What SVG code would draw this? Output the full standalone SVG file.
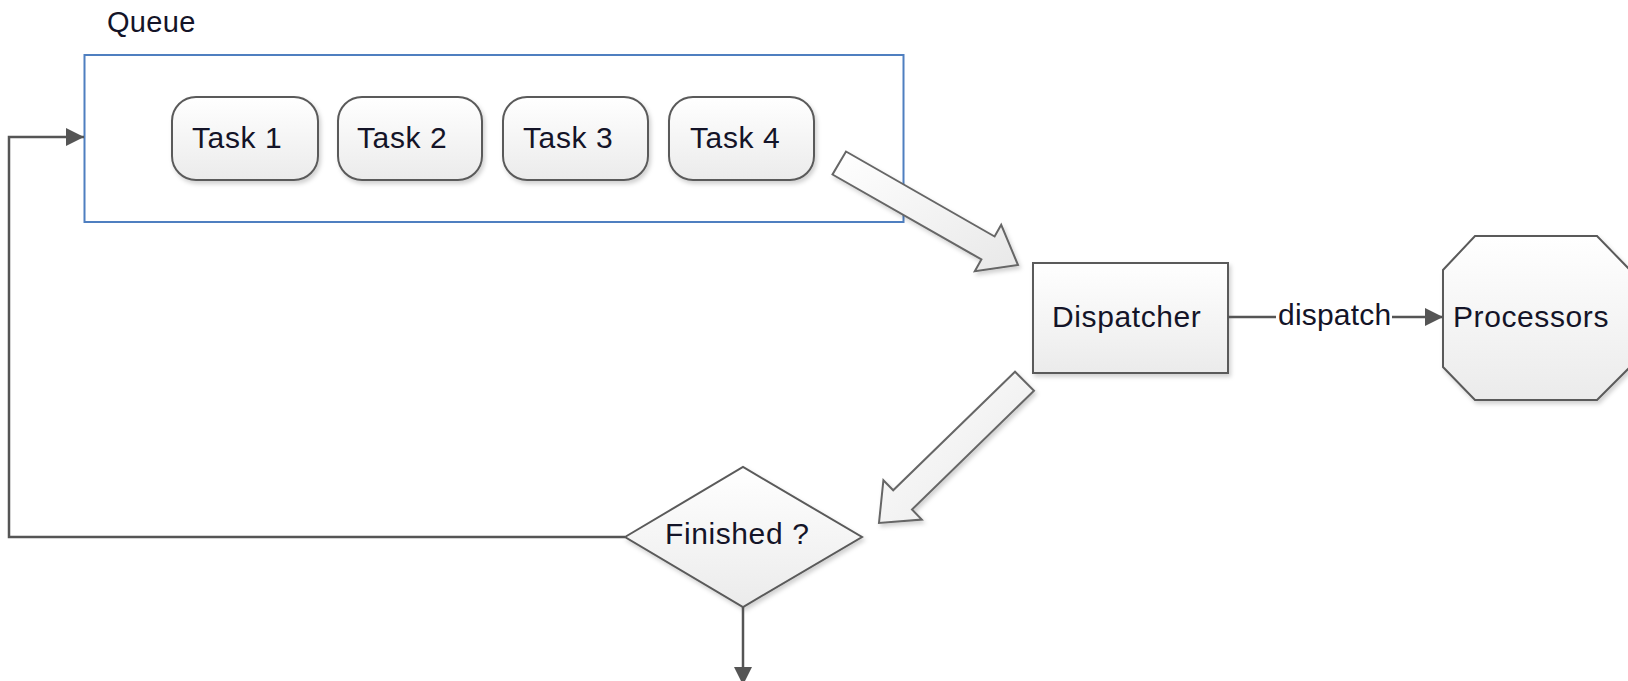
<svg xmlns="http://www.w3.org/2000/svg" width="1628" height="681" viewBox="0 0 1628 681">
<defs>
<linearGradient id="g" x1="0" y1="0" x2="0" y2="1"><stop offset="0" stop-color="#ffffff"/><stop offset="1" stop-color="#ebebeb"/></linearGradient>
<linearGradient id="ga" x1="0" y1="0" x2="1" y2="1"><stop offset="0" stop-color="#ffffff"/><stop offset="1" stop-color="#e8e8e8"/></linearGradient>
<filter id="sh" x="-10%" y="-10%" width="130%" height="130%"><feDropShadow dx="2" dy="3" stdDeviation="2" flood-color="#000" flood-opacity="0.18"/></filter>
<marker id="ah" viewBox="0 0 10 10" refX="10" refY="5" markerWidth="20" markerHeight="18" markerUnits="userSpaceOnUse" orient="auto"><path d="M0,0 L10,5 L0,10 z" fill="#555"/></marker>
<style>
.node{fill:url(#g);stroke:#5a5a5a;stroke-width:2;filter:url(#sh)}
.blk{fill:url(#ga);stroke:#666;stroke-width:2;stroke-linejoin:miter;filter:url(#sh)}
.t{font-family:"Liberation Sans",Arial,sans-serif;font-size:30px;letter-spacing:0.6px;fill:#141428}
.conn{fill:none;stroke:#555;stroke-width:2.5}
</style>
</defs>
<g id="queue">
<text class="t" x="107" y="32" style="font-size:29px;letter-spacing:0.3px">Queue</text>
<rect x="84.5" y="55" width="819" height="167" fill="none" stroke="#4f7fc0" stroke-width="2"/>
</g>
<g id="task1"><rect class="node" x="172" y="97" width="146" height="83" rx="24"/><text class="t" x="192" y="148">Task 1</text></g>
<g id="task2"><rect class="node" x="338" y="97" width="144" height="83" rx="24"/><text class="t" x="357" y="148">Task 2</text></g>
<g id="task3"><rect class="node" x="503" y="97" width="145" height="83" rx="24"/><text class="t" x="523" y="148">Task 3</text></g>
<g id="task4"><rect class="node" x="669" y="97" width="145" height="83" rx="24"/><text class="t" x="690" y="148">Task 4</text></g>
<g id="dispatcher"><rect class="node" x="1033" y="263" width="195" height="110"/><text class="t" x="1052" y="327">Dispatcher</text></g>
<g id="processors"><polygon class="node" points="1475,236 1597,236 1630,270 1630,367 1597,400 1475,400 1443,367 1443,270"/><text class="t" x="1453" y="327">Processors</text></g>
<g id="finished"><polygon class="node" points="625,537 743,467 862,537 743,607"/><text class="t" x="665" y="544">Finished ?</text></g>
<g id="connectors">
<polygon class="blk" points="846,151.5 994.6,236.5 1001.2,224.8 1018,265 974.8,271.2 981.4,259.5 832.5,174.5"/>
<polygon class="blk" points="1015,371.7 893.2,490.3 883.4,480.2 879,523 921.8,519.6 912,509.5 1034,390.7"/>
<line class="conn" x1="1228" y1="317" x2="1443" y2="317" marker-end="url(#ah)"/>
<rect x="1276" y="300" width="116" height="32" fill="#fff"/>
<text class="t" x="1278" y="325" style="letter-spacing:0.2px">dispatch</text>
<path class="conn" d="M625,537 H9 V137 H84" marker-end="url(#ah)"/>
<line class="conn" x1="743" y1="607" x2="743" y2="685" marker-end="url(#ah)"/>
</g>
</svg>
